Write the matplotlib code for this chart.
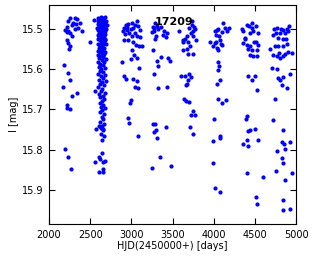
import matplotlib
matplotlib.use('Agg')
import matplotlib.pyplot as plt

star_id = '17209'

# observing seasons: (HJD - 2450000, I mag)
hjd_s1 = [2255, 2316, 2344, 2235, 2288, 2328, 2276, 2377, 2215, 2195, 2235, 2255, 2397, 2356, 2316,
          2215, 2276, 2215, 2235, 2255, 2247, 2182, 2235, 2255, 2166, 2344, 2276, 2223, 2215, 2255,
          2195, 2227, 2263]
mag_s1 = [15.473, 15.473, 15.475, 15.479, 15.484, 15.487, 15.489, 15.484, 15.495, 15.502, 15.506, 15.510,
          15.506, 15.498, 15.500, 15.508, 15.517, 15.528, 15.535, 15.543, 15.550, 15.589, 15.609, 15.626,
          15.644, 15.659, 15.666, 15.690, 15.696, 15.700, 15.798, 15.818, 15.849]

hjd_s2 = [2600, 2630, 2650, 2680, 2615, 2640, 2665, 2590, 2690, 2605, 2635, 2655, 2685, 2595, 2625, 2645,
          2670, 2700, 2610, 2630, 2655, 2680, 2585, 2620, 2645, 2665, 2690, 2600, 2625, 2650, 2675, 2610,
          2640, 2660, 2685, 2590, 2620, 2645, 2670, 2630, 2655, 2600, 2680, 2615, 2645, 2670, 2630, 2595,
          2655, 2690, 2620, 2645, 2605, 2670, 2630, 2655, 2590, 2680, 2620, 2645, 2600, 2670, 2630, 2655,
          2610, 2690, 2640, 2595, 2665, 2620, 2650, 2605, 2680, 2635, 2615, 2660, 2595, 2675, 2630, 2650,
          2605, 2690, 2640, 2620, 2665, 2595, 2645, 2630, 2680, 2605, 2655, 2625, 2665, 2640, 2615, 2660,
          2630, 2680, 2645, 2620, 2665, 2640, 2655, 2625, 2670, 2645, 2635, 2660,
          2551, 2498, 2559, 2571, 2612, 2628, 2660, 2640, 2668, 2559, 2612, 2640, 2680, 2660, 2620, 2612,
          2660, 2652, 2640, 2625, 2655, 2610, 2675, 2635, 2660, 2620]
mag_s2 = [15.472, 15.470, 15.473, 15.471, 15.476, 15.478, 15.477, 15.480, 15.480, 15.483, 15.482, 15.484,
          15.485, 15.488, 15.487, 15.489, 15.488, 15.490, 15.492, 15.493, 15.494, 15.495, 15.497, 15.498,
          15.499, 15.500, 15.501, 15.503, 15.504, 15.505, 15.506, 15.509, 15.510, 15.511, 15.512, 15.514,
          15.515, 15.516, 15.517, 15.520, 15.522, 15.524, 15.524, 15.528, 15.529, 15.531, 15.534, 15.536,
          15.537, 15.538, 15.541, 15.543, 15.547, 15.546, 15.551, 15.553, 15.555, 15.556, 15.558, 15.560,
          15.564, 15.563, 15.567, 15.570, 15.573, 15.575, 15.578, 15.582, 15.583, 15.587, 15.590, 15.594,
          15.596, 15.600, 15.605, 15.607, 15.612, 15.614, 15.618, 15.622, 15.626, 15.628, 15.632, 15.637,
          15.640, 15.645, 15.648, 15.655, 15.658, 15.662, 15.666, 15.670, 15.674, 15.680, 15.684, 15.688,
          15.693, 15.697, 15.702, 15.707, 15.712, 15.718, 15.724, 15.730, 15.735, 15.740, 15.746, 15.752,
          15.477, 15.531, 15.655, 15.748, 15.742, 15.762, 15.748, 15.775, 15.766, 15.831, 15.818, 15.808,
          15.828, 15.831, 15.823, 15.856, 15.856, 15.849, 15.486, 15.495, 15.503, 15.519, 15.527, 15.544,
          15.566, 15.592]

hjd_s3 = [2936, 2964, 3004, 3065, 2911, 2895, 2944, 3025, 3085, 3106, 2976, 3045, 2923, 3073, 3004, 2964,
          3025, 2911, 3057, 3097, 3126, 3004, 3033, 3065, 2992, 3097, 2883, 2911, 2936, 3025, 3065, 3045,
          3077, 2992, 2984, 2964, 2976, 3085, 2950, 3040, 2990, 3110]
mag_s3 = [15.489, 15.487, 15.484, 15.481, 15.498, 15.506, 15.502, 15.498, 15.493, 15.502, 15.510, 15.510,
          15.512, 15.517, 15.517, 15.528, 15.531, 15.528, 15.539, 15.543, 15.543, 15.551, 15.564, 15.572,
          15.575, 15.597, 15.583, 15.618, 15.624, 15.624, 15.630, 15.644, 15.646, 15.677, 15.684, 15.721,
          15.733, 15.765, 15.495, 15.490, 15.500, 15.520]

hjd_s4 = [3259, 3308, 3357, 3276, 3247, 3300, 3288, 3389, 3421, 3438, 3259, 3316, 3357, 3328, 3450, 3470,
          3276, 3324, 3438, 3267, 3288, 3276, 3300, 3421, 3316, 3348, 3247, 3478, 3290, 3320, 3270, 3400]
mag_s4 = [15.494, 15.492, 15.495, 15.506, 15.508, 15.517, 15.525, 15.514, 15.520, 15.510, 15.551, 15.580,
          15.570, 15.591, 15.572, 15.580, 15.613, 15.646, 15.644, 15.737, 15.737, 15.756, 15.751, 15.743,
          15.770, 15.818, 15.845, 15.841, 15.485, 15.500, 15.497, 15.505]

hjd_s5 = [3583, 3632, 3652, 3624, 3672, 3721, 3745, 3761, 3733, 3705, 3753, 3786, 3693, 3713, 3624, 3680,
          3693, 3745, 3600, 3652, 3705, 3721, 3693, 3680, 3664, 3640, 3664, 3705, 3753, 3774, 3721, 3713,
          3753, 3740, 3770]
mag_s5 = [15.506, 15.527, 15.525, 15.533, 15.518, 15.510, 15.506, 15.494, 15.489, 15.498, 15.517, 15.527,
          15.531, 15.543, 15.553, 15.550, 15.561, 15.561, 15.616, 15.618, 15.611, 15.619, 15.626, 15.636,
          15.638, 15.675, 15.680, 15.682, 15.704, 15.713, 15.715, 15.743, 15.760, 15.480, 15.500]

hjd_s6 = [4017, 4037, 4057, 4029, 4069, 4098, 4118, 4138, 4166, 4191, 3956, 3988, 4017, 4037, 4077, 4098,
          4057, 4085, 4029, 4057, 4069, 4057, 4077, 4045, 4057, 4098, 4150, 4004, 3996, 4077, 4077, 3996,
          4017, 4077]
mag_s6 = [15.506, 15.502, 15.500, 15.514, 15.517, 15.508, 15.485, 15.498, 15.506, 15.498, 15.533, 15.541,
          15.535, 15.547, 15.527, 15.539, 15.551, 15.536, 15.531, 15.583, 15.591, 15.601, 15.626, 15.636,
          15.674, 15.685, 15.677, 15.723, 15.779, 15.766, 15.770, 15.833, 15.895, 15.905]

hjd_s7 = [4340, 4361, 4434, 4462, 4515, 4543, 4482, 4442, 4381, 4361, 4401, 4442, 4490, 4515, 4543, 4421,
          4462, 4523, 4442, 4482, 4531, 4381, 4421, 4462, 4502, 4531, 4401, 4393, 4361, 4401, 4421, 4442,
          4502, 4421, 4543, 4401, 4604, 4515, 4531, 4470, 4410]
mag_s7 = [15.500, 15.506, 15.492, 15.498, 15.492, 15.510, 15.506, 15.510, 15.522, 15.535, 15.539, 15.541,
          15.533, 15.531, 15.539, 15.550, 15.553, 15.551, 15.564, 15.568, 15.566, 15.525, 15.618, 15.627,
          15.616, 15.652, 15.717, 15.723, 15.785, 15.775, 15.754, 15.751, 15.748, 15.791, 15.775, 15.857,
          15.867, 15.917, 15.936, 15.485, 15.490]

hjd_s8 = [4733, 4766, 4814, 4846, 4887, 4919, 4907, 4867, 4806, 4758, 4725, 4786, 4838, 4879, 4745, 4786,
          4838, 4887, 4685, 4725, 4766, 4806, 4838, 4867, 4907, 4948, 4798, 4705, 4766, 4928, 4786, 4806,
          4838, 4826, 4887, 4745, 4725, 4838, 4774, 4826, 4846, 4867, 4826, 4855, 4928, 4758, 4867, 4948,
          4846, 4838, 4928]
mag_s8 = [15.500, 15.498, 15.500, 15.502, 15.500, 15.493, 15.506, 15.510, 15.510, 15.510, 15.514, 15.522,
          15.525, 15.525, 15.541, 15.541, 15.541, 15.536, 15.550, 15.564, 15.566, 15.572, 15.568, 15.561,
          15.558, 15.560, 15.560, 15.597, 15.599, 15.611, 15.622, 15.627, 15.619, 15.638, 15.646, 15.675,
          15.727, 15.750, 15.804, 15.820, 15.834, 15.799, 15.781, 15.785, 15.781, 15.853, 15.875, 15.857,
          15.925, 15.950, 15.948]

hjd = hjd_s1 + hjd_s2 + hjd_s3 + hjd_s4 + hjd_s5 + hjd_s6 + hjd_s7 + hjd_s8
mag = mag_s1 + mag_s2 + mag_s3 + mag_s4 + mag_s5 + mag_s6 + mag_s7 + mag_s8

fig = plt.figure(figsize=(3.16, 2.59), dpi=100)
ax = fig.add_axes([0.155, 0.135, 0.782, 0.846])

ax.plot(hjd, mag, '.', color='blue', ms=4)

ax.set_xlim(2000, 5000)
ax.set_ylim(15.985, 15.44)
ax.set_xticks([2000, 2500, 3000, 3500, 4000, 4500, 5000])
ax.set_yticks([15.5, 15.6, 15.7, 15.8, 15.9])
ax.tick_params(direction='in', top=True, right=True, length=4, labelsize=7, pad=4)

ax.set_xlabel('HJD(2450000+) [days]', fontsize=7, labelpad=1)
ax.set_ylabel('I [mag]', fontsize=7, labelpad=2)
ax.text(0.505, 0.92, star_id, transform=ax.transAxes, ha='center', va='center',
        fontsize=8, fontweight='bold')

fig.savefig('out.png', dpi=100)
